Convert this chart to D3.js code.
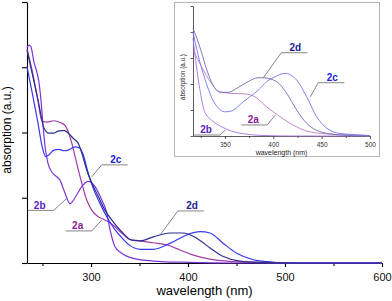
<!DOCTYPE html>
<html>
<head>
<meta charset="utf-8">
<script src="https://cdn.jsdelivr.net/npm/d3@7"></script>
<style>
  body { margin: 0; background: #fff; }
  svg { display: block; font-family: "Liberation Sans", Arial, sans-serif; }
</style>
</head>
<body>
<script>
// series names and colours
var names = ["2a", "2b", "2c", "2d"];
var lineColors = ["#a23ca9", "#7a35d8", "#3838f2", "#2e2e8e"];
var labelColors = ["#8b1a98", "#5a22c4", "#2020e6", "#1c1c94"];

// main spectra [wavelength nm, absorption a.u.]
var main2a = [[234,3.28],[240,2.90],[245,2.52],[249.5,2.17],[254.6,2.16],[261.8,2.18],[268.7,2.15],[273.2,2.11],[276,2.03],[280.1,1.84],[285.2,1.53],[290.4,1.23],[295.5,0.97],[300.7,0.81],[307.5,0.71],[314.4,0.66],[323,0.58],[331.6,0.46],[340.2,0.36],[350.5,0.34],[364.2,0.31],[378,0.28],[391.7,0.20],[405.4,0.12],[422.7,0.06],[439.9,0.03],[467.3,0.01],[520,0],[600,0]];
var main2b = [[234,3.30],[236.1,3.34],[238.1,3.31],[241.2,3.08],[244.6,2.90],[246,2.80],[248.4,2.50],[250.5,2.11],[253.1,1.73],[255.6,1.53],[259.8,1.39],[263.9,1.33],[268,1.27],[273.2,1.07],[278.3,0.91],[283.5,1.00],[290.4,1.17],[297.2,1.25],[304.1,1.17],[311,0.97],[316.2,0.77],[319.6,0.51],[324.7,0.25],[331.6,0.15],[343.6,0.07],[364,0.03],[400,0.01],[450,0],[600,0]];
var main2c = [[234,3.01],[240,2.56],[245,2.17],[250,1.76],[253.3,1.63],[256.7,1.66],[261.8,1.73],[267,1.74],[272.1,1.72],[276.6,1.73],[283.5,1.78],[288.6,1.76],[292,1.66],[297.2,1.37],[302.4,1.14],[309.3,0.91],[316.2,0.71],[324.7,0.51],[331,0.40],[340,0.27],[350.5,0.21],[364.2,0.21],[381.4,0.30],[398.6,0.43],[412.4,0.48],[422.7,0.46],[436.4,0.30],[450.2,0.15],[467.3,0.05],[481.1,0.02],[500,0],[600,0]];
var main2d = [[234,3.26],[240,2.86],[246,2.45],[251.5,2.07],[256.7,1.99],[261.8,1.99],[266,2.02],[270,2.03],[273,2.03],[276.6,1.99],[281.7,1.91],[286.9,1.83],[290.4,1.69],[295.5,1.43],[300.7,1.23],[307.5,1.02],[314.4,0.81],[321.3,0.66],[331.6,0.48],[341.9,0.35],[350.5,0.34],[364.2,0.40],[381.4,0.46],[395.1,0.46],[409,0.38],[422.7,0.23],[436.4,0.10],[453.6,0.03],[477.6,0.01],[520,0],[600,0]];

// inset spectra (zoomed, own normalisation)
var inset2a = [[317,3.30],[325.6,2.69],[335.9,2.03],[344.6,1.70],[356.6,1.64],[370.5,1.62],[380.8,1.51],[393.2,1.12],[405.2,0.79],[420.7,0.42],[434.5,0.19],[455.2,0.08],[479.2,0.04],[500,0.02]];
var inset2b = [[317,3.76],[320.4,2.73],[323.9,1.83],[329.1,0.93],[335.9,0.62],[346.3,0.36],[356.6,0.19],[370.5,0.08],[389.4,0.02],[420,0],[500,0]];
var inset2c = [[317,4.01],[322.2,3.12],[329.1,2.22],[335.9,1.51],[342.8,1.09],[349.8,0.93],[356.6,0.96],[369.1,1.32],[384.6,1.77],[393.2,2.09],[403.5,2.31],[412.1,2.41],[424.2,2.15],[434.5,1.51],[444.9,0.74],[455.2,0.30],[469,0.10],[489.7,0.04],[500,0.01]];
var inset2d = [[317,4.14],[320.4,3.82],[325.6,3.24],[330.8,2.60],[335.9,2.09],[341.1,1.77],[346.3,1.68],[353.2,1.68],[363.5,1.86],[373.9,2.09],[384.2,2.24],[389.7,2.24],[403.5,2.09],[413.9,1.64],[424.2,1.00],[434.5,0.49],[448.3,0.17],[469,0.04],[496.6,0],[500,0]];

// tick values
var mainMajor = [300, 400, 500, 600];
var mainMinor = [250, 350, 450, 550];
var mainY = [0, 1, 2, 3, 4];
var insetMajor = [350, 400, 450, 500];
var insetMinor = [325, 375, 425, 475];
var insetY = [0, 1, 2, 3, 4, 5];

// label anchors: point on curve [nm, a.u.], elbow offset, side of the text
var mainNotes = [
  { s: 0, at: [311, 0.66], dx: -10, dy: 11, dir: -1 },
  { s: 1, at: [274.9, 0.99], dx: -13, dy: 12, dir: -1 },
  { s: 2, at: [300.7, 1.32], dx: 10, dy: -12, dir: 1 },
  { s: 3, at: [371.1, 0.43], dx: 18, dy: -24, dir: 1 }
];
var insetNotes = [
  { s: 0, at: [402.1, 0.81], dx: -8, dy: 10, dir: -1 },
  { s: 1, at: [350.2, 0.23], dx: -5, dy: 5, dir: -1 },
  { s: 2, at: [438.3, 1.51], dx: 8, dy: -14, dir: 1 },
  { s: 3, at: [389.7, 2.24], dx: 18, dy: -25, dir: 1 }
];

var W = 392, H = 301;
var svg = d3.select("body").append("svg").attr("width", W).attr("height", H);

// ---------- main plot ----------
var x = d3.scaleLinear().domain([234, 600]).range([27, 382]);
var y = d3.scaleLinear().domain([0, 4]).range([263, 2]);

var main = svg.append("g");

main.append("g")
    .attr("transform", "translate(0,263)")
    .call(d3.axisBottom(x).tickValues(mainMinor).tickSize(3).tickFormat(""))
    .call(function(g) { g.select(".domain").remove(); });

main.append("g")
    .attr("transform", "translate(0,263)")
    .call(d3.axisBottom(x).tickValues(mainMajor).tickSize(4).tickPadding(6).tickSizeOuter(0))
    .call(function(g) {
      g.selectAll("text").style("font-size", "11px").attr("fill", "#111");
    });

main.append("g")
    .attr("transform", "translate(27,0)")
    .call(d3.axisLeft(y).tickValues(mainY).tickSize(5).tickFormat("").tickSizeOuter(0));

main.selectAll(".domain, .tick line").attr("stroke", "#000").attr("stroke-width", 1.1);

main.append("text")
    .attr("x", 204.5).attr("y", 295)
    .attr("text-anchor", "middle")
    .style("font-size", "13px")
    .text("wavelength (nm)");

main.append("text")
    .attr("transform", "translate(11,130) rotate(-90)")
    .attr("text-anchor", "middle")
    .style("font-size", "12px")
    .text("absorption (a.u.)");

var line = d3.line()
    .x(function(d) { return x(d[0]); })
    .y(function(d) { return y(d[1]); })
    .curve(d3.curveMonotoneX);

var mainSeries = [main2a, main2b, main2c, main2d];
main.selectAll(".spec")
  .data(mainSeries)
  .enter().append("path")
    .attr("class", "spec")
    .attr("fill", "none")
    .attr("stroke", function(d, i) { return lineColors[i]; })
    .attr("stroke-width", 1.2)
    .attr("d", line);

function notes(g, list, sx, sy, len, fs) {
  list.forEach(function(n) {
    var px = sx(n.at[0]), py = sy(n.at[1]);
    var ex = px + n.dx, ey = py + n.dy;
    var fx = ex + n.dir * len;
    g.append("path")
      .attr("d", "M" + px + "," + py + "L" + ex + "," + ey + "L" + fx + "," + ey)
      .attr("fill", "none")
      .attr("stroke", "#777")
      .attr("stroke-width", 0.9);
    g.append("text")
      .attr("x", (ex + fx) / 2 + n.dir * 1)
      .attr("y", ey - 1.8)
      .attr("text-anchor", "middle")
      .style("font-size", fs + "px")
      .style("font-weight", "bold")
      .attr("fill", labelColors[n.s])
      .text(names[n.s]);
  });
}
notes(main, mainNotes, x, y, 26, 10);

// ---------- inset ----------
var inset = svg.append("g");
inset.append("rect")
    .attr("x", 174.5).attr("y", 2.5).attr("width", 205).attr("height", 154)
    .attr("fill", "#fff")
    .attr("stroke", "#b4b4b4")
    .attr("stroke-width", 1);

var xi = d3.scaleLinear().domain([317, 500]).range([193, 370]);
var yi = d3.scaleLinear().domain([0, 5]).range([136, 6]);

inset.append("g")
    .attr("transform", "translate(0,136)")
    .call(d3.axisBottom(xi).tickValues(insetMinor).tickSize(2).tickFormat(""))
    .call(function(g) { g.select(".domain").remove(); });

inset.append("g")
    .attr("transform", "translate(0,136)")
    .call(d3.axisBottom(xi).tickValues(insetMajor).tickSize(3).tickPadding(3).tickSizeOuter(0))
    .call(function(g) {
      g.selectAll("text").style("font-size", "6.5px").attr("fill", "#333");
    });

inset.append("g")
    .attr("transform", "translate(193,0)")
    .call(d3.axisLeft(yi).tickValues(insetY).tickSize(2.5).tickFormat("").tickSizeOuter(0));

inset.selectAll(".domain, .tick line").attr("stroke", "#333").attr("stroke-width", 0.8);

inset.append("text")
    .attr("x", 281.5).attr("y", 155)
    .attr("text-anchor", "middle")
    .style("font-size", "7px")
    .attr("fill", "#222")
    .text("wavelength (nm)");

inset.append("text")
    .attr("transform", "translate(184.5,77) rotate(-90)")
    .attr("text-anchor", "middle")
    .style("font-size", "6.3px")
    .attr("fill", "#222")
    .text("absorption (a.u.)");

var linei = d3.line()
    .x(function(d) { return xi(d[0]); })
    .y(function(d) { return yi(d[1]); })
    .curve(d3.curveMonotoneX);

var insetSeries = [inset2a, inset2b, inset2c, inset2d];
inset.selectAll(".ispec")
  .data(insetSeries)
  .enter().append("path")
    .attr("class", "ispec")
    .attr("fill", "none")
    .attr("stroke", function(d, i) { return d3.interpolateRgb(lineColors[i], "#fff")(0.3); })
    .attr("stroke-width", 0.9)
    .attr("d", linei);

notes(inset, insetNotes, xi, yi, 26, 10);
</script>
</body>
</html>
